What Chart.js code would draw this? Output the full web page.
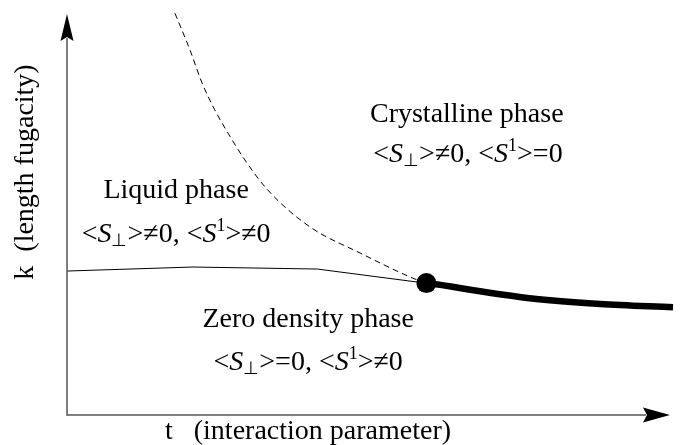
<!DOCTYPE html>
<html>
<head>
<meta charset="utf-8">
<script src="https://cdn.jsdelivr.net/npm/chart.js@4/dist/chart.umd.min.js"></script>
<style>
  html, body { margin: 0; padding: 0; background: #fff; }
</style>
</head>
<body>
<canvas id="phase-chart" width="683" height="445"></canvas>
<script>
// phase boundaries: t (interaction parameter) on x, k (length fugacity) on y, arbitrary units 0..10
const liquidT = [0, 2.09, 4.15, 5.94];
const liquidK = [3.59, 3.69, 3.64, 3.29];

const dashedT = [1.79, 2.04, 2.24, 2.45, 2.67, 2.95, 3.33, 4.03, 4.86, 5.69, 5.94];
const dashedK = [10.02, 9.10, 8.28, 7.61, 7.03, 6.36, 5.61, 4.69, 4.04, 3.44, 3.29];

const crystalT = [5.99, 7.63, 8.84, 10.05];
const crystalK = [3.29, 2.92, 2.77, 2.69];

const pointT = [5.96];
const pointK = [3.29];

const xTitle = "t   (interaction parameter)";
const yTitle = "k  (length fugacity)";

function pts(xs, ys) {
    return xs.map((x, i) => ({ x: x, y: ys[i] }));
}

const SERIF = '"Liberation Serif", "Times New Roman", serif';

// rich text: [text, style]
const labels = [
    { t: 6.63, k: 7.3, runs: [["Crystalline phase", "n"]] },
    { t: 6.65, k: 6.3, runs: [["<", "n"], ["S", "i"], ["\u22A5", "sub"], [">\u22600, <", "n"], ["S", "i"], ["1", "sup"], [">=0", "n"]] },
    { t: 1.81, k: 5.41, runs: [["Liquid phase", "n"]] },
    { t: 1.81, k: 4.31, runs: [["<", "n"], ["S", "i"], ["\u22A5", "sub"], [">\u22600, <", "n"], ["S", "i"], ["1", "sup"], [">\u22600", "n"]] },
    { t: 4.0, k: 2.19, runs: [["Zero density phase", "n"]] },
    { t: 4.0, k: 1.13, runs: [["<", "n"], ["S", "i"], ["\u22A5", "sub"], [">=0, <", "n"], ["S", "i"], ["1", "sup"], [">\u22600", "n"]] }
];

const styles = {
    n: { font: "28px " + SERIF, dy: 0 },
    i: { font: "italic 28px " + SERIF, dy: 0 },
    sub: { font: "18px " + SERIF, dy: 4 },
    sup: { font: "18px " + SERIF, dy: -11 }
};

function drawRich(ctx, runs, cx, baseY) {
    let total = 0;
    runs.forEach(r => { ctx.font = styles[r[1]].font; total += ctx.measureText(r[0]).width; });
    let x = cx - total / 2;
    runs.forEach(r => {
        const s = styles[r[1]];
        ctx.font = s.font;
        ctx.fillText(r[0], x, baseY + s.dy);
        x += ctx.measureText(r[0]).width;
    });
}

const decorPlugin = {
    id: 'decor',
    afterDraw(chart) {
        const ctx = chart.ctx;
        const a = chart.chartArea;
        const xs = chart.scales.x, ys = chart.scales.y;
        ctx.save();

        // axes
        ctx.strokeStyle = '#555';
        ctx.lineWidth = 1.5;
        ctx.beginPath();
        ctx.moveTo(a.left, a.top + 24);
        ctx.lineTo(a.left, a.bottom);
        ctx.lineTo(a.right - 24, a.bottom);
        ctx.stroke();

        // arrow heads
        ctx.fillStyle = '#000';
        ctx.beginPath();
        ctx.moveTo(a.left, a.top);
        ctx.lineTo(a.left + 6.5, a.top + 27);
        ctx.lineTo(a.left, a.top + 23);
        ctx.lineTo(a.left - 6.5, a.top + 27);
        ctx.closePath();
        ctx.fill();

        ctx.beginPath();
        ctx.moveTo(a.right, a.bottom);
        ctx.lineTo(a.right - 27, a.bottom - 7.5);
        ctx.lineTo(a.right - 23, a.bottom);
        ctx.lineTo(a.right - 27, a.bottom + 7.5);
        ctx.closePath();
        ctx.fill();

        // region labels
        ctx.fillStyle = '#000';
        ctx.textAlign = 'left';
        ctx.textBaseline = 'alphabetic';
        labels.forEach(l => drawRich(ctx, l.runs, xs.getPixelForValue(l.t), ys.getPixelForValue(l.k)));

        // axis titles
        ctx.font = "28px " + SERIF;
        ctx.textAlign = 'center';
        ctx.fillText(xTitle, 308, 439);
        ctx.translate(33, 172);
        ctx.rotate(-Math.PI / 2);
        ctx.fillText(yTitle, 0, 0);
        ctx.restore();
    }
};

new Chart(document.getElementById("phase-chart"), {
    type: 'scatter',
    data: {
        datasets: [
            {
                label: "liquid / zero density",
                data: pts(liquidT, liquidK),
                showLine: true,
                borderColor: '#000',
                borderWidth: 1,
                pointRadius: 0,
                tension: 0,
                clip: false
            },
            {
                label: "liquid / crystalline",
                data: pts(dashedT, dashedK),
                showLine: true,
                borderColor: '#000',
                borderWidth: 1,
                borderDash: [6, 4],
                pointRadius: 0,
                cubicInterpolationMode: 'monotone',
                clip: false
            },
            {
                label: "crystalline / zero density",
                data: pts(crystalT, crystalK),
                showLine: true,
                borderColor: '#000',
                borderWidth: 6.5,
                borderCapStyle: 'butt',
                pointRadius: 0,
                cubicInterpolationMode: 'monotone',
                clip: false
            },
            {
                label: "triple point",
                data: pts(pointT, pointK),
                showLine: false,
                pointRadius: 10,
                pointBackgroundColor: '#000',
                pointBorderColor: '#000',
                pointBorderWidth: 0,
                clip: false
            }
        ]
    },
    options: {
        responsive: false,
        animation: false,
        layout: { padding: { left: 67, right: 13, top: 14, bottom: 30 } },
        scales: {
            x: { type: 'linear', min: 0, max: 10, display: false },
            y: { type: 'linear', min: 0, max: 10, display: false }
        },
        plugins: {
            legend: { display: false },
            tooltip: { enabled: false },
            title: { display: false }
        }
    },
    plugins: [decorPlugin]
});
</script>
</body>
</html>
